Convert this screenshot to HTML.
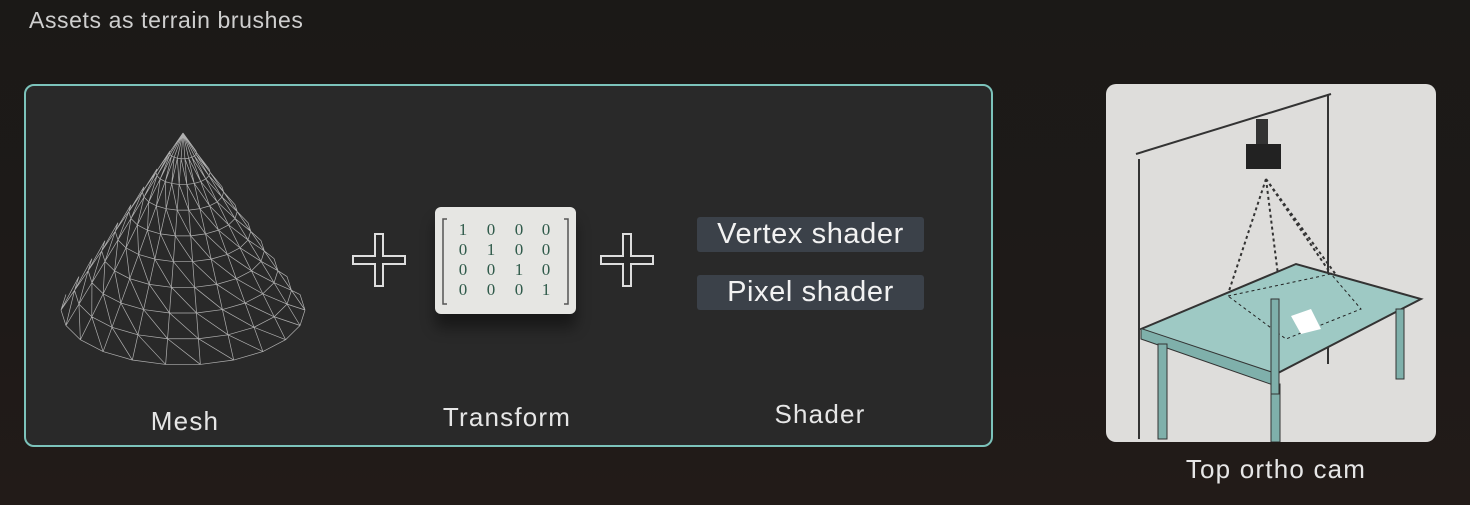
<!DOCTYPE html>
<html><head><meta charset="utf-8"><style>
html,body{margin:0;padding:0;}
body{width:1470px;height:505px;overflow:hidden;background:linear-gradient(180deg,#1b1917 0%,#1e1a18 60%,#221b18 100%);font-family:"Liberation Sans",sans-serif;position:relative;}
.t{position:absolute;color:#e6e6e6;white-space:nowrap;}
.c{text-align:center;width:240px;font-size:26px;letter-spacing:1.2px;}
</style></head><body>
<div class="t" style="left:29px;top:7px;font-size:23px;letter-spacing:0.6px;color:#cfcfcf;">Assets as terrain brushes</div>
<div style="position:absolute;left:24px;top:84px;width:965px;height:359px;border:2px solid #7cc3bb;border-radius:10px;background:#292929;"></div>
<svg id="cone" width="260" height="260" style="position:absolute;left:53px;top:125px;" viewBox="53 125 260 260"></svg>
<svg width="60" height="60" style="position:absolute;left:350px;top:231px"><path d="M25 3h8v22h22v8h-22v22h-8v-22h-22v-8h22z" fill="none" stroke="#ddd" stroke-width="2"/></svg>
<svg width="60" height="60" style="position:absolute;left:598px;top:231px"><path d="M25 3h8v22h22v8h-22v22h-8v-22h-22v-8h22z" fill="none" stroke="#ddd" stroke-width="2"/></svg>
<div style="position:absolute;left:435px;top:207px;width:141px;height:107px;background:#e6e6e3;border-radius:6px;box-shadow:0 14px 14px rgba(0,0,0,0.4);">
<svg width="141" height="107"><g fill="none" stroke="#555" stroke-width="1.5"><path d="M12 12h-4v85h4M129 12h4v85h-4"/></g>
<g font-family="Liberation Serif,serif" font-size="17" fill="#2f5a4a" text-anchor="middle">
<text x="28" y="28">1</text><text x="56" y="28">0</text><text x="84" y="28">0</text><text x="111" y="28">0</text>
<text x="28" y="48">0</text><text x="56" y="48">1</text><text x="84" y="48">0</text><text x="111" y="48">0</text>
<text x="28" y="68">0</text><text x="56" y="68">0</text><text x="84" y="68">1</text><text x="111" y="68">0</text>
<text x="28" y="88">0</text><text x="56" y="88">0</text><text x="84" y="88">0</text><text x="111" y="88">1</text></g></svg></div>
<div class="t" style="left:697px;top:217px;width:227px;height:35px;background:#3b4149;border-radius:3px;font-size:29px;letter-spacing:0.6px;line-height:35px;text-align:center;color:#f2f2f2;">Vertex shader</div>
<div class="t" style="left:697px;top:275px;width:227px;height:35px;background:#3b4149;border-radius:3px;font-size:29px;letter-spacing:0.6px;line-height:35px;text-align:center;color:#f2f2f2;">Pixel shader</div>
<div class="t c" style="left:65px;top:406px;">Mesh</div>
<div class="t c" style="left:387px;top:402px;">Transform</div>
<div class="t c" style="left:700px;top:399px;">Shader</div>
<svg width="330" height="358" style="position:absolute;left:1106px;top:84px;border-radius:10px;background:#dedddb;">
<g stroke="#333" stroke-width="2" fill="none">
<path d="M30 70 L225 10"/><path d="M33 75 L33 355"/><path d="M222 10 L222 280"/>
<path d="M160 95 L122 210 M160 95 L180 255 M160 95 L255 225 M160 95 L225 190" stroke-dasharray="3,3"/>
</g>
<path d="M35 245 L190 180 L315 215 L170 290 Z" fill="#9ec9c4" stroke="#333" stroke-width="2"/>
<path d="M170 290 L170 302 L35 255 L35 245" fill="#7fb0ab" stroke="#333"/>
<path d="M122 212 L225 190 L255 225 L180 255 Z" fill="none" stroke="#222" stroke-dasharray="3,3"/>
<path d="M185 232 L205 225 L215 245 L195 250 Z" fill="#fff"/>
<g fill="#7fb0ab" stroke="#333"><rect x="52" y="260" width="9" height="95"/><rect x="165" y="300" width="9" height="58"/><rect x="290" y="225" width="8" height="70"/><rect x="165" y="215" width="8" height="95"/></g>
<rect x="140" y="60" width="35" height="25" fill="#222"/><rect x="150" y="35" width="12" height="25" fill="#333"/>
</svg>
<div class="t" style="left:1156px;top:454px;width:240px;text-align:center;font-size:26px;letter-spacing:1.2px;">Top ortho cam</div>
<script>
var svg=document.getElementById('cone'),ns='http://www.w3.org/2000/svg';
var ax=183,ay=133,cx=183,cy=310,rx=122,ry=55,N=22,R=9,s='';
function P(t,a){var x=cx+rx*Math.cos(a),y=cy+ry*Math.sin(a);return [ax+(x-ax)*t,ay+(y-ay)*t];}
for(var i=1;i<=R;i++){var t=i/R;for(var j=0;j<N;j++){var a=Math.PI*2*j/N,b=Math.PI*2*(j+1)/N;
if(Math.sin(a)<-0.1&&Math.sin(b)<-0.1)continue;var p=P(t,a),q=P(t,b),r=P(t-1/R,b);
s+='M'+p+'L'+q+'M'+p+'L'+r;}}
for(var j=0;j<N;j++){var a=Math.PI*2*j/N;if(Math.sin(a)<-0.1)continue;var p=P(1,a);s+='M'+ax+','+ay+'L'+p;}
var path=document.createElementNS(ns,'path');


path.setAttribute('d',s);path.setAttribute('stroke','#b0b0b0');path.setAttribute('stroke-width','0.7');path.setAttribute('fill','none');
svg.appendChild(path);
</script>
</body></html>
